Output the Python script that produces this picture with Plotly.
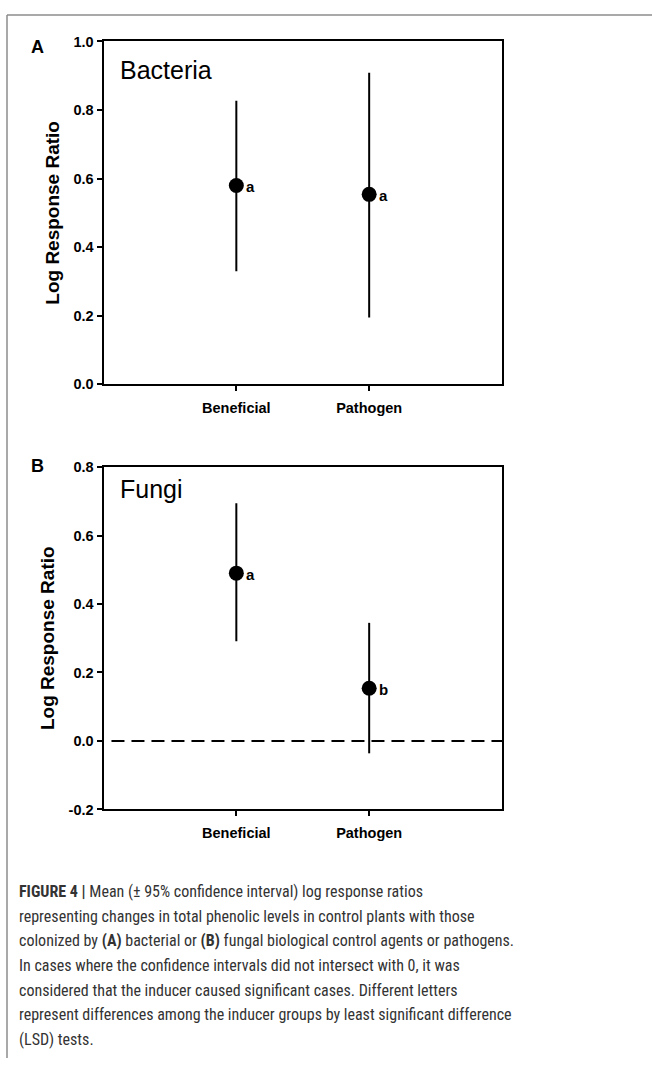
import plotly.graph_objects as go

W, H = 652, 1066

categories = ["Beneficial", "Pathogen"]

# Panel A (Bacteria)
mean_A = [0.58, 0.554]
upper_A = [0.827, 0.909]
lower_A = [0.330, 0.195]
letters_A = ["a", "a"]

# Panel B (Fungi)
mean_B = [0.490, 0.154]
upper_B = [0.694, 0.345]
lower_B = [0.291, -0.036]
letters_B = ["a", "b"]

y_ticks_A = [0.0, 0.2, 0.4, 0.6, 0.8, 1.0]
y_ticks_B = [-0.2, 0.0, 0.2, 0.4, 0.6, 0.8]
y_ticktext_A = ["0.0", "0.2", "0.4", "0.6", "0.8", "1.0"]
y_ticktext_B = ["-0.2", "0.0", "0.2", "0.4", "0.6", "0.8"]

caption_lines = [
    "<b>FIGURE 4 |</b> Mean (± 95% confidence interval) log response ratios",
    "representing changes in total phenolic levels in control plants with those",
    "colonized by <b>(A)</b> bacterial or <b>(B)</b> fungal biological control agents or pathogens.",
    "In cases where the confidence intervals did not intersect with 0, it was",
    "considered that the inducer caused significant cases. Different letters",
    "represent differences among the inducer groups by least significant difference",
    "(LSD) tests.",
]


def px(x):
    return x / W


def py(y):
    return 1 - y / H


FONT = "Liberation Sans, Arial, sans-serif"
CAP_FONT = "Liberation Sans Narrow, Arial Narrow, Roboto Condensed, Liberation Sans, Arial, sans-serif"

fig = go.Figure()

for i, (mean, up, lo, xa, ya) in enumerate([
    (mean_A, upper_A, lower_A, "x", "y"),
    (mean_B, upper_B, lower_B, "x2", "y2"),
]):
    fig.add_trace(go.Scatter(
        x=categories, y=mean, mode="markers",
        marker=dict(size=15, color="black"),
        error_y=dict(type="data", symmetric=False,
                     array=[u - m for u, m in zip(up, mean)],
                     arrayminus=[m - l for m, l in zip(mean, lo)],
                     thickness=2, width=0, color="black"),
        xaxis=xa, yaxis=ya, showlegend=False, hoverinfo="skip",
    ))

xdom = [px(103.5), px(502)]
axis_common = dict(showline=True, linecolor="black", linewidth=2, mirror=True,
                   ticks="outside", ticklen=5, tickwidth=2, tickcolor="black",
                   showgrid=False, zeroline=False,
                   tickfont=dict(family=FONT, size=14.5, color="black", weight="bold"))

title_font = dict(family=FONT, size=19, color="black", weight="bold")

fig.update_layout(
    width=W, height=H,
    margin=dict(l=0, r=0, t=0, b=0),
    paper_bgcolor="white", plot_bgcolor="white",
    xaxis=dict(domain=xdom, range=[-1, 2], anchor="y", type="category",
               categoryorder="array", categoryarray=categories,
               ticklabelstandoff=4, **axis_common),
    yaxis=dict(domain=[py(382), py(34)], range=[0, 1], anchor="x",
               tickvals=y_ticks_A, ticktext=y_ticktext_A,
               title=dict(text="Log Response Ratio", standoff=9, font=title_font),
               **axis_common),
    xaxis2=dict(domain=xdom, range=[-1, 2], anchor="y2", type="category",
                categoryorder="array", categoryarray=categories,
                ticklabelstandoff=4, **axis_common),
    yaxis2=dict(domain=[py(813.7), py(466)], range=[-0.2, 0.8], anchor="x2",
                tickvals=y_ticks_B, ticktext=y_ticktext_B,
                title=dict(text="Log Response Ratio", standoff=9, font=title_font),
                **axis_common),
)

annotations = []
# significance letters
for cats, means, letters, xr, yr in [
    (categories, mean_A, letters_A, "x", "y"),
    (categories, mean_B, letters_B, "x2", "y2"),
]:
    for c, m, l in zip(cats, means, letters):
        annotations.append(dict(x=c, y=m, xref=xr, yref=yr, text=l, showarrow=False,
                                xanchor="left", yanchor="middle", xshift=8, yshift=-1,
                                font=dict(family=FONT, size=15, color="black", weight="bold")))

# panel titles and letters
annotations += [
    dict(x=px(118), y=py(63), xref="paper", yref="paper", text="Bacteria", showarrow=False,
         xanchor="left", yanchor="middle", font=dict(family=FONT, size=25, color="black")),
    dict(x=px(118), y=py(488), xref="paper", yref="paper", text="Fungi", showarrow=False,
         xanchor="left", yanchor="middle", font=dict(family=FONT, size=25, color="black")),
    dict(x=px(37), y=py(40), xref="paper", yref="paper", text="A", showarrow=False,
         xanchor="center", yanchor="middle",
         font=dict(family=FONT, size=18, color="black", weight="bold")),
    dict(x=px(37), y=py(465), xref="paper", yref="paper", text="B", showarrow=False,
         xanchor="center", yanchor="middle",
         font=dict(family=FONT, size=18, color="black", weight="bold")),
]

for k, line in enumerate(caption_lines):
    annotations.append(dict(x=px(17), y=py(897 + 25 * k), xref="paper", yref="paper",
                            text=line, showarrow=False, xanchor="left", yanchor="middle",
                            font=dict(family=CAP_FONT, size=16, color="#333333")))

fig.update_layout(annotations=annotations)

shapes = [
    # zero reference line in panel B
    dict(type="line", xref="x2 domain", yref="y2", x0=0.02, x1=1, y0=0, y1=0,
         line=dict(color="black", width=2, dash="13px,7px")),
    # outer figure frame (top and left)
    dict(type="line", xref="paper", yref="paper", x0=px(7), x1=1, y0=py(7), y1=py(7),
         line=dict(color="#8c8c8c", width=1.5)),
    dict(type="line", xref="paper", yref="paper", x0=px(7), x1=px(7), y0=py(7), y1=0,
         line=dict(color="#8c8c8c", width=1.5)),
]
fig.update_layout(shapes=shapes)

fig.write_html("out.html")
